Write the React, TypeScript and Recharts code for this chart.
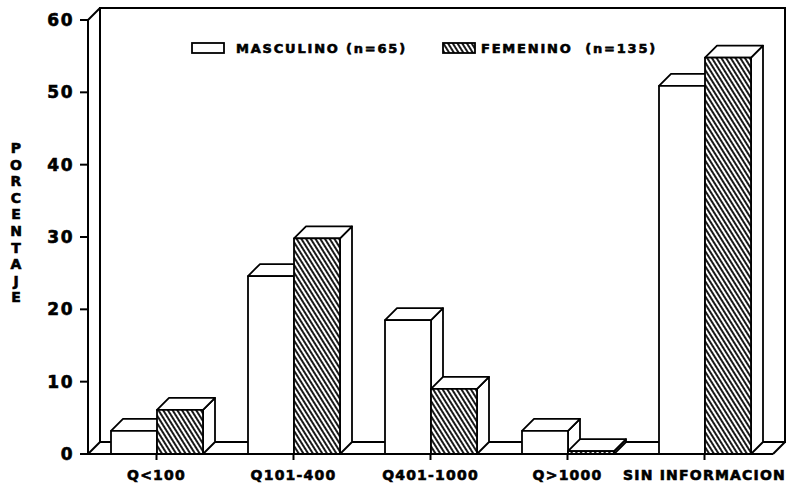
import * as Recharts from "recharts";

const { BarChart, Bar, XAxis, YAxis, Customized } = Recharts;

const categories = ["Q<100", "Q101-400", "Q401-1000", "Q>1000", "SIN INFORMACION"];
const masculino = [3.2, 24.6, 18.5, 3.2, 50.9];
const femenino = [6.1, 29.8, 9.0, 0.4, 54.8];
const yTicks = [0, 10, 20, 30, 40, 50, 60];
const seriesNames = ["MASCULINO (n=65)", "FEMENINO  (n=135)"];
const yTitle = "PORCENTAJE";

const data = categories.map((c, i) => ({
  cat: c,
  masc: masculino[i],
  fem: femenino[i],
}));

const W = 794;
const H = 492;
const MARGIN = { top: 20, right: 21, bottom: 8, left: 0 };
const Y_W = 88;
const X_H = 30;
const DEPTH = 12;
const FONT = "'DejaVu Sans', 'Liberation Sans', Arial, sans-serif";
// heavier text, like the scanned original
const heavy = { fontFamily: FONT, fontWeight: "bold", fill: "#000", stroke: "#000", strokeWidth: 0.6 };

const usePlotAreaSafe: () => any =
  (Recharts as any).usePlotArea ?? (() => undefined);

function Frame() {
  const pa = usePlotAreaSafe();
  const L = pa?.x ?? MARGIN.left + Y_W;
  const T = pa?.y ?? MARGIN.top;
  const R = pa ? pa.x + pa.width : W - MARGIN.right;
  const B = pa ? pa.y + pa.height : H - MARGIN.bottom - X_H;
  const D = DEPTH;
  const s = { stroke: "#000", strokeWidth: 2, fill: "none" };
  return (
    <g>
      <defs>
        <pattern
          id="hatch"
          width="4"
          height="4"
          patternUnits="userSpaceOnUse"
          patternTransform="rotate(-32)"
        >
          <rect width="4" height="4" fill="#fff" />
          <line x1="1" y1="0" x2="1" y2="4" stroke="#000" strokeWidth="1.8" />
        </pattern>
      </defs>
      <rect x={L + D} y={T - D} width={R - L} height={B - T} fill="#fff" stroke="#000" strokeWidth={2} />
      <line x1={L} y1={T} x2={L + D} y2={T - D} {...s} />
      <line x1={L} y1={B} x2={L + D} y2={B - D} {...s} />
      <line x1={R} y1={B} x2={R + D} y2={B - D} {...s} />
      {/* legend */}
      <rect x={192} y={43} width={32} height={10} fill="#fff" stroke="#000" strokeWidth={1.8} />
      <text x={236} y={53} fontSize={13} letterSpacing={1.8} {...heavy}>
        {seriesNames[0]}
      </text>
      <rect x={443} y={43} width={32} height={10} fill="url(#hatch)" stroke="#000" strokeWidth={1.8} />
      <text x={481} y={53} fontSize={13} letterSpacing={1.8} style={{ whiteSpace: "pre" }} {...heavy}>
        {seriesNames[1]}
      </text>
    </g>
  );
}

function Bar3D(props: any) {
  const { x, y, width, height, hatched } = props;
  if (width == null || height == null) return null;
  const D = DEPTH;
  const w = width;
  const h = height;
  const st = { stroke: "#000", strokeWidth: 1.8, strokeLinejoin: "round" as const };
  const top = `${x},${y} ${x + D},${y - D} ${x + w + D},${y - D} ${x + w},${y}`;
  const side = `${x + w},${y} ${x + w + D},${y - D} ${x + w + D},${y + h - D} ${x + w},${y + h}`;
  return (
    <g>
      <polygon points={side} fill="#fff" {...st} />
      <polygon points={top} fill="#fff" {...st} />
      <rect x={x} y={y} width={w} height={h} fill={hatched ? "url(#hatch)" : "#fff"} {...st} />
    </g>
  );
}

function XTick(props: any) {
  const { x, y, payload } = props;
  return (
    <text x={x} y={y + 18} textAnchor="middle" fontSize={14} letterSpacing={1.2} {...heavy}>
      {payload.value}
    </text>
  );
}

function YTick(props: any) {
  const { x, y, payload } = props;
  return (
    <text x={x} y={y + 6} textAnchor="end" fontSize={17} letterSpacing={1.5} {...heavy}>
      {payload.value}
    </text>
  );
}

function YTitle() {
  const letters = yTitle.split("");
  return (
    <text fontSize={14} textAnchor="middle" {...heavy}>
      {letters.map((ch, i) => (
        <tspan key={i} x={16} y={153 + i * 16.6}>
          {ch}
        </tspan>
      ))}
    </text>
  );
}

export default function App() {
  return (
    <div style={{ position: "absolute", left: 0, top: 0, width: W, height: H, background: "#fff" }}>
      <BarChart width={W} height={H} data={data} margin={MARGIN} barGap={0} barSize={46}>
        <Customized component={Frame} />
        <XAxis
          dataKey="cat"
          height={X_H}
          interval={0}
          tickSize={6}
          tick={<XTick />}
          axisLine={{ stroke: "#000", strokeWidth: 2 }}
          tickLine={{ stroke: "#000", strokeWidth: 2 }}
        />
        <YAxis
          width={Y_W}
          domain={[0, 60]}
          ticks={yTicks}
          tickSize={8}
          tickMargin={6}
          tick={<YTick />}
          axisLine={{ stroke: "#000", strokeWidth: 2 }}
          tickLine={{ stroke: "#000", strokeWidth: 2 }}
        />
        <Bar dataKey="masc" isAnimationActive={false} shape={(p: any) => <Bar3D {...p} />} />
        <Bar dataKey="fem" isAnimationActive={false} shape={(p: any) => <Bar3D {...p} hatched />} />
        <Customized component={YTitle} />
      </BarChart>
    </div>
  );
}
